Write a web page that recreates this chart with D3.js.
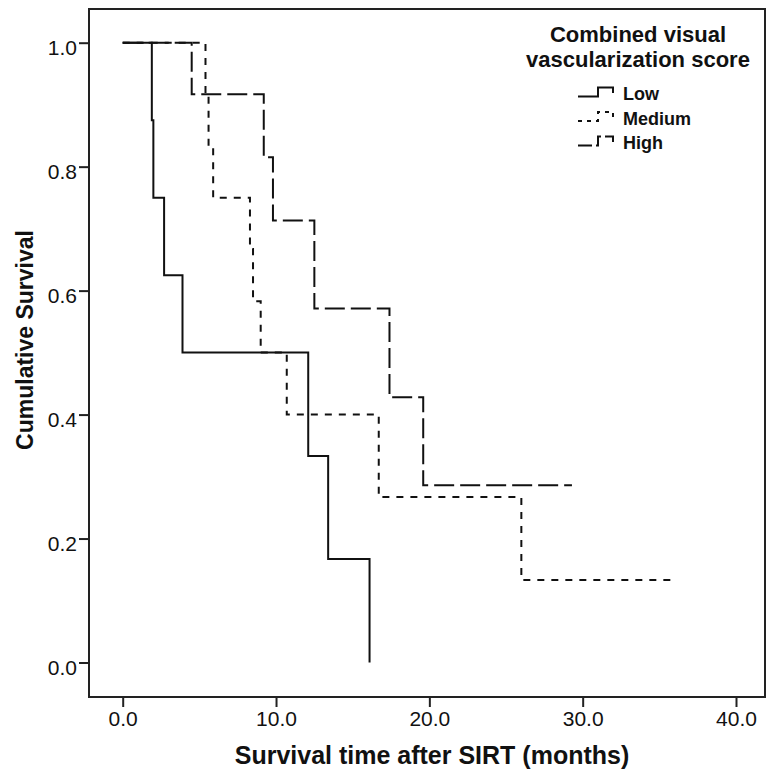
<!DOCTYPE html>
<html>
<head>
<meta charset="utf-8">
<script src="https://cdn.jsdelivr.net/npm/d3@7"></script>
<style>
  body { margin: 0; background: #fff; }
  text { font-family: "Liberation Sans", Arial, sans-serif; fill: #111; }
</style>
</head>
<body>
<script>
// survival estimates (months, cumulative survival)
const groups = ["Low", "Medium", "High"];
const lowTime = [1.9, 2.0, 2.7, 3.9, 12.1, 13.4, 16.1];
const lowSurv = [0.875, 0.75, 0.625, 0.5, 0.333, 0.167, 0.0];
const medTime = [5.4, 5.6, 5.9, 8.3, 8.5, 9.0, 10.7, 16.7, 26.0];
const medSurv = [0.917, 0.833, 0.75, 0.667, 0.583, 0.5, 0.4, 0.267, 0.133];
const highTime = [4.5, 9.2, 9.8, 12.5, 17.4, 19.6];
const highSurv = [0.917, 0.815, 0.713, 0.571, 0.428, 0.286];
const lastFollowUp = [16.1, 36.1, 29.3];
const xTicks = [0, 10, 20, 30, 40];
const yTicks = [0, 0.2, 0.4, 0.6, 0.8, 1.0];

const svgWidth = 767;
const svgHeight = 778;
const frame = {left: 89, right: 765, top: 9, bottom: 697};

const svg = d3.select("body")
    .append("svg")
    .attr("width", svgWidth)
    .attr("height", svgHeight);

const x = d3.scaleLinear().domain([0, 40]).range([122.7, 736]);
const y = d3.scaleLinear().domain([0, 1]).range([662.5, 42.7]);

// plot frame
svg.append("rect")
    .attr("x", frame.left)
    .attr("y", frame.top)
    .attr("width", frame.right - frame.left)
    .attr("height", frame.bottom - frame.top)
    .attr("fill", "none")
    .attr("stroke", "#222")
    .attr("stroke-width", 2);

const xAxis = svg.append("g")
    .attr("transform", `translate(0, ${frame.bottom})`)
    .call(d3.axisBottom(x).tickValues(xTicks).tickFormat(d3.format(".1f")).tickSize(10).tickPadding(4));
xAxis.select(".domain").remove();
xAxis.selectAll("line").attr("stroke", "#222").attr("stroke-width", 2);
xAxis.selectAll("text").style("font-size", "21px").attr("fill", "#111");

const yAxis = svg.append("g")
    .attr("transform", `translate(${frame.left}, 0)`)
    .call(d3.axisLeft(y).tickValues(yTicks).tickFormat(d3.format(".1f")).tickSize(10).tickPadding(2));
yAxis.select(".domain").remove();
yAxis.selectAll("line").attr("stroke", "#222").attr("stroke-width", 2);
yAxis.selectAll("text").style("font-size", "21px").attr("fill", "#111").attr("dy", "0.55em");

svg.append("text")
    .attr("x", 432)
    .attr("y", 764)
    .attr("text-anchor", "middle")
    .style("font-size", "25px")
    .style("font-weight", "bold")
    .text("Survival time after SIRT (months)");

svg.append("text")
    .attr("transform", "translate(33, 340) rotate(-90)")
    .attr("text-anchor", "middle")
    .style("font-size", "23px")
    .style("font-weight", "bold")
    .text("Cumulative Survival");

// step curves
const dashes = ["none", "7,7", "20,6"];
const times = [lowTime, medTime, highTime];
const survs = [lowSurv, medSurv, highSurv];

const curves = groups.map((g, i) => {
    const pts = [[0, 1]];
    times[i].forEach((t, j) => pts.push([t, survs[i][j]]));
    const last = pts[pts.length - 1];
    if (lastFollowUp[i] > last[0]) pts.push([lastFollowUp[i], last[1]]);
    return pts;
});

const line = d3.line()
    .x(d => x(d[0]))
    .y(d => y(d[1]))
    .curve(d3.curveStepAfter);

svg.append("g")
    .selectAll("path")
    .data(curves)
    .enter()
    .append("path")
    .attr("d", line)
    .attr("fill", "none")
    .attr("stroke", "#111")
    .attr("stroke-width", 2)
    .attr("stroke-dasharray", (d, i) => dashes[i]);

// legend
const legend = svg.append("g").attr("transform", "translate(638, 0)");
legend.append("text")
    .attr("y", 42)
    .attr("text-anchor", "middle")
    .style("font-size", "22px")
    .style("font-weight", "bold")
    .text("Combined visual");
legend.append("text")
    .attr("y", 67)
    .attr("text-anchor", "middle")
    .style("font-size", "22px")
    .style("font-weight", "bold")
    .text("vascularization score");

const items = legend.selectAll(".legends")
    .data(groups)
    .enter()
    .append("g")
    .classed("legends", true)
    .attr("transform", (d, i) => `translate(0, ${100 + i * 24.5})`);

items.append("path")
    .attr("d", "M-60,-3.5 H-40 V-12.5 H-25 V-7")
    .attr("fill", "none")
    .attr("stroke", "#111")
    .attr("stroke-width", 2)
    .attr("stroke-dasharray", (d, i) => i === 0 ? "none" : (i === 1 ? "4,5" : "14,4"));

items.append("text")
    .attr("x", -15)
    .style("font-size", "18px")
    .style("font-weight", "bold")
    .text(d => d);
</script>
</body>
</html>
